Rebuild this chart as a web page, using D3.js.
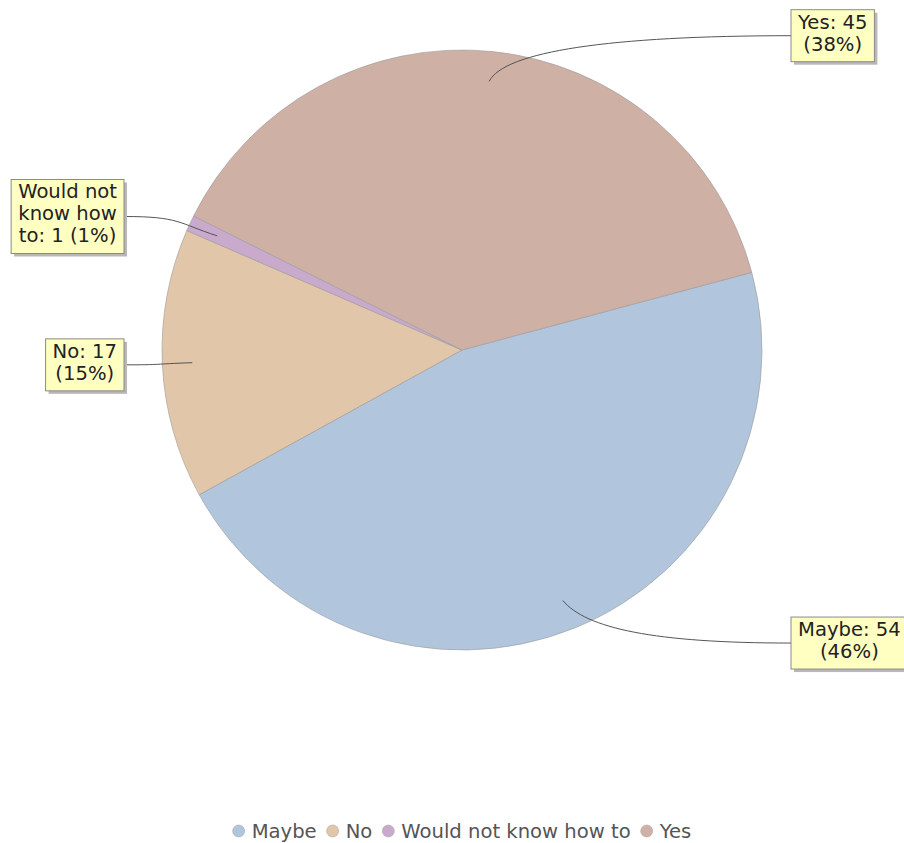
<!DOCTYPE html>
<html><head><meta charset="utf-8">
<script src="https://cdn.jsdelivr.net/npm/d3@7"></script>
<style>body{margin:0;background:#fff}</style>
</head><body>
<svg id="c" width="904" height="843"></svg>
<script>
const categories = ["Maybe", "No", "Would not know how to", "Yes"];
const values = [54, 17, 1, 45];
const colors = ["#b1c5dc", "#e2c6a9", "#c9aacc", "#cfb0a5"];

const W = 904, H = 843;
const cx = 462, cy = 350, R = 300;
const FONT = "'DejaVu Sans', sans-serif";
const FS = 19.6;
const svg = d3.select("#c");
const total = d3.sum(values);
const pct = d3.format(".0%");
const deg = Math.PI / 180;

const data = categories.map((c, i) => ({ cat: c, value: values[i], color: colors[i] }));
const pie = d3.pie().sort(null).value(d => d.value)
  .startAngle(75 * deg).endAngle(435 * deg);
const arcs = pie(data);
const arc = d3.arc().innerRadius(0).outerRadius(R);

const g = svg.append("g").attr("transform", `translate(${cx},${cy})`);
g.selectAll("path.slice").data(arcs).enter().append("path")
  .attr("class", "slice")
  .attr("d", arc)
  .attr("fill", d => d.data.color)
  .attr("stroke", "#9a9a9a")
  .attr("stroke-width", 0.6);

// measure helper
const meas = svg.append("text").attr("font-family", FONT).attr("font-size", FS).attr("visibility", "hidden");
function tw(s, size) { meas.attr("font-size", size).text(s); return meas.node().getComputedTextLength(); }
function wrap(s, maxW, size) {
  const words = s.split(" "); const lines = []; let cur = "";
  words.forEach(w => {
    const t = cur ? cur + " " + w : w;
    if (cur && tw(t, size) > maxW) { lines.push(cur); cur = w; } else cur = t;
  });
  if (cur) lines.push(cur);
  return lines;
}

const lineH = 22, padX = 7, padY = 4;
const labelR = 1.053 * R;
const links = svg.append("g");
const labels = svg.append("g");
arcs.forEach(a => {
  const mid = (a.startAngle + a.endAngle) / 2;
  const s = Math.sin(mid), c = Math.cos(mid);
  const right = s >= 0;
  const text = `${a.data.cat}: ${a.data.value} (${pct(a.data.value / total)})`;
  const lines = wrap(text, 108, FS);
  const bw = d3.max(lines, l => tw(l, FS)) + 2 * padX;
  const bh = lines.length * lineH + 2 * padY;
  const ly = cy - labelR * c;
  const bx = right ? cx + R + 29 : cx - R - 38 - bw;
  const by = ly - bh / 2;
  // link
  const p0 = [cx + 0.9 * R * s, cy - 0.9 * R * c];
  const pe = [cx + R * s + (right ? 12 : -12), cy - R * c];
  const tx = right ? bx : bx + bw;
  const c2 = [tx - (tx - p0[0]) * 0.6, ly];
  const p = d3.path();
  p.moveTo(p0[0], p0[1]);
  p.bezierCurveTo(pe[0], pe[1], c2[0], c2[1], tx, ly);
  links.append("path").attr("d", p.toString()).attr("fill", "none")
    .attr("stroke", "#555").attr("stroke-width", 1);
  // box with shadow
  labels.append("rect").attr("x", bx + 3).attr("y", by + 3).attr("width", bw).attr("height", bh)
    .attr("fill", "#b8b8b8");
  labels.append("rect").attr("x", bx).attr("y", by).attr("width", bw).attr("height", bh)
    .attr("fill", "#ffffc2").attr("stroke", "#8a8a8a").attr("stroke-width", 1);
  lines.forEach((l, i) => {
    labels.append("text").attr("x", bx + bw / 2).attr("y", by + padY + 15 + i * lineH)
      .attr("text-anchor", "middle").attr("font-family", FONT).attr("font-size", FS)
      .attr("fill", "#222").text(l);
  });
});

// legend
const legSize = FS, legY = 831, cr = 6, gapC = 7, gapItem = 10;
const items = data.map(d => ({ ...d, w: tw(d.cat, legSize) }));
const totalW = d3.sum(items, d => 2 * cr + gapC + d.w) + gapItem * (items.length - 1);
let x = cx - totalW / 2;
const leg = svg.append("g");
items.forEach(d => {
  leg.append("circle").attr("cx", x + cr).attr("cy", legY).attr("r", cr)
    .attr("fill", d.color).attr("stroke", "#aaa").attr("stroke-width", 0.6);
  leg.append("text").attr("x", x + 2 * cr + gapC).attr("y", legY + 7)
    .attr("font-family", FONT).attr("font-size", legSize).attr("fill", "#555").text(d.cat);
  x += 2 * cr + gapC + d.w + gapItem;
});
meas.remove();
</script>
</body></html>
